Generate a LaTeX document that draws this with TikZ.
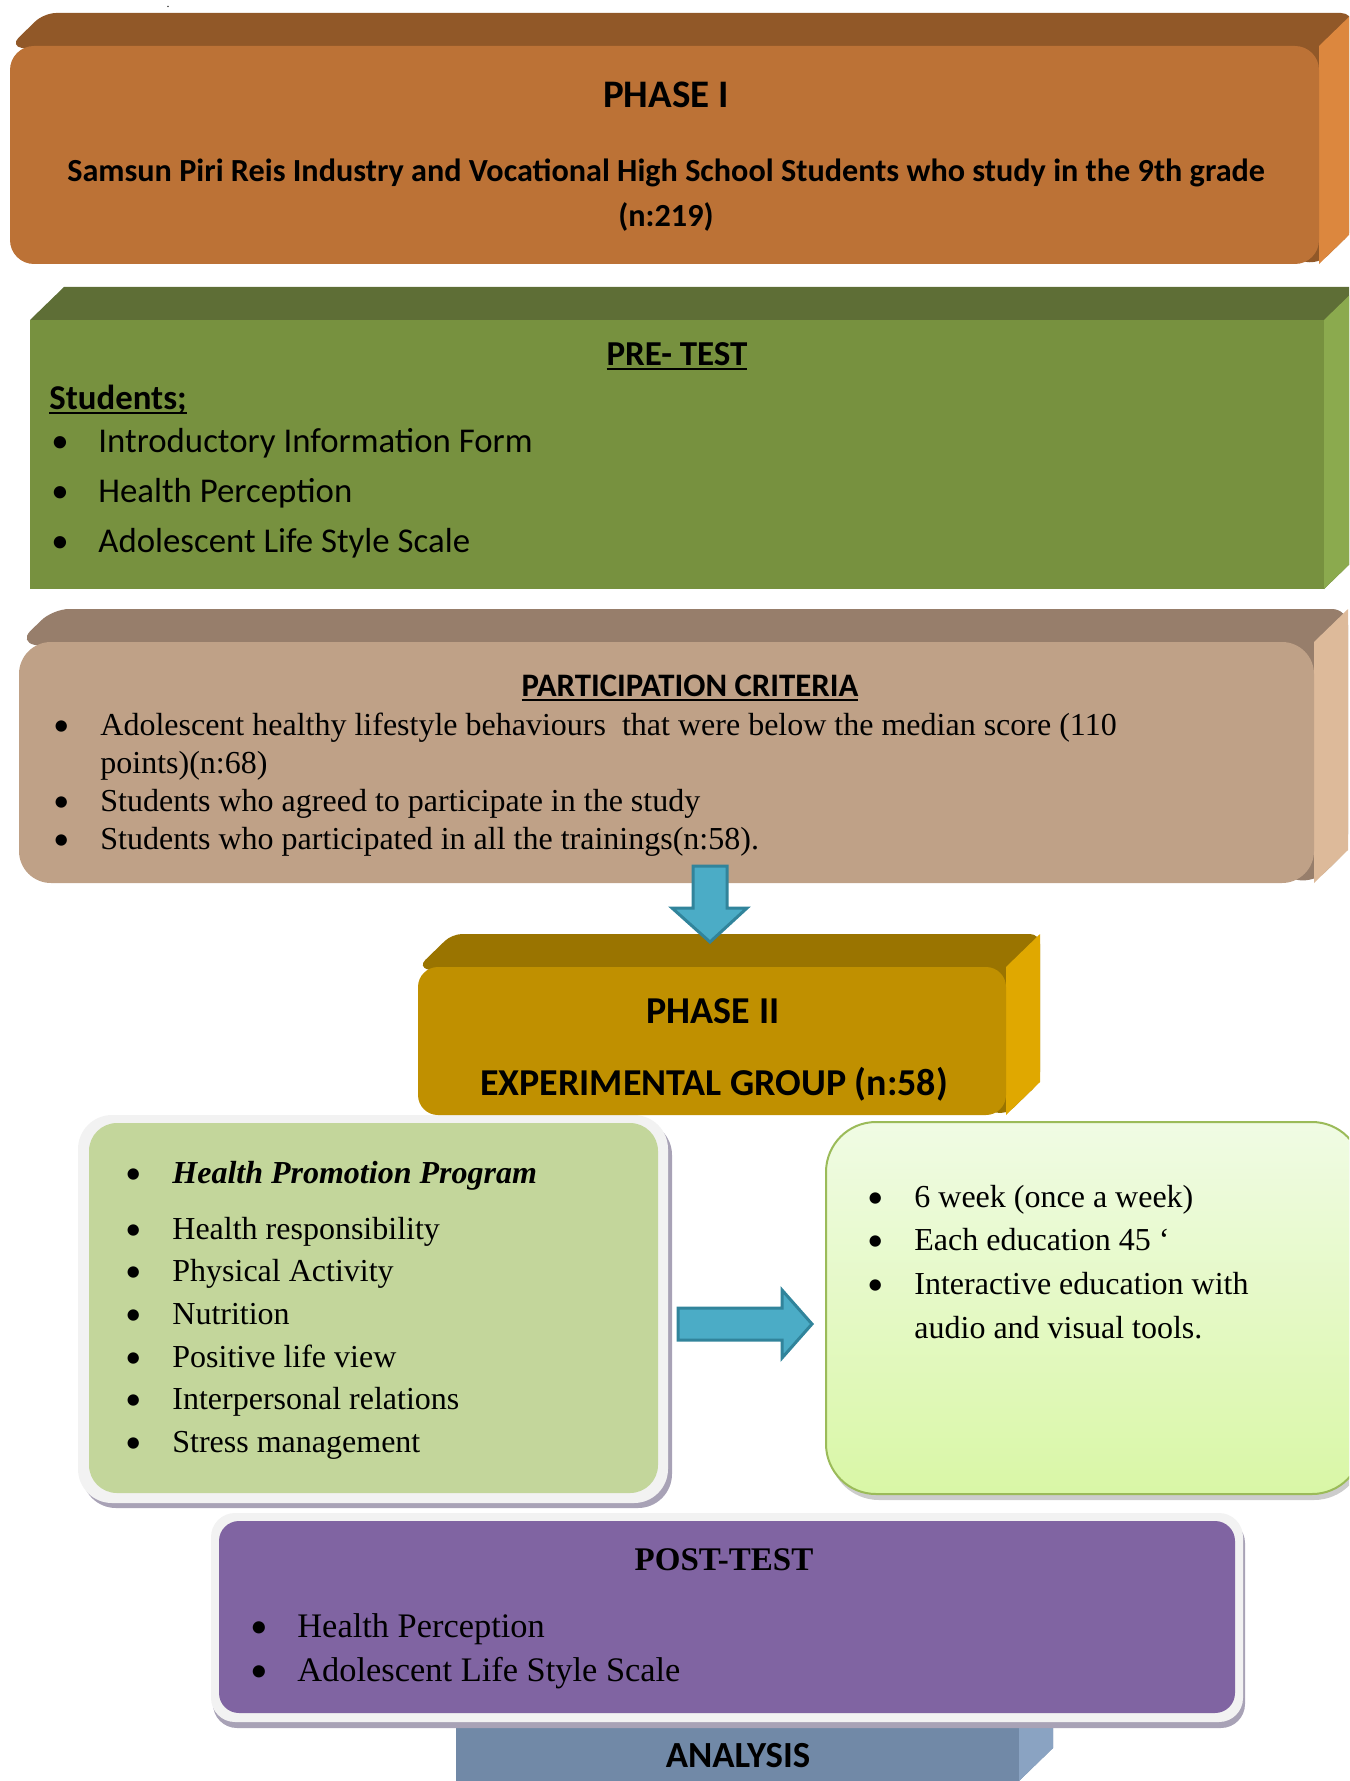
\documentclass[tikz,border=0pt]{standalone}
\usepackage{fontspec}
\setmainfont{Liberation Serif}
\newfontfamily\calib{Carlito}

\definecolor{oneTop}{HTML}{915828}
\definecolor{oneFront}{HTML}{BC7236}
\definecolor{oneSide}{HTML}{DC873E}
\definecolor{preTop}{HTML}{5E6E36}
\definecolor{preFront}{HTML}{77913F}
\definecolor{preSide}{HTML}{8BAA4E}
\definecolor{critTop}{HTML}{977E6B}
\definecolor{critFront}{HTML}{BFA187}
\definecolor{critSide}{HTML}{DDBA9A}
\definecolor{twoTop}{HTML}{9A7400}
\definecolor{twoFront}{HTML}{C09000}
\definecolor{twoSide}{HTML}{E0A800}
\definecolor{anaFront}{HTML}{7189A7}
\definecolor{anaSide}{HTML}{8AA3C2}
\definecolor{progFill}{HTML}{C3D69B}
\definecolor{postFill}{HTML}{8064A2}
\definecolor{frameGrey}{HTML}{F2F2F2}
\definecolor{shadowGrey}{HTML}{A8A2B6}
\definecolor{detailLine}{HTML}{9BBB59}
\definecolor{detailTop}{HTML}{F0FBE4}
\definecolor{detailBottom}{HTML}{D9F7A6}
\definecolor{arrowFill}{HTML}{4BACC6}
\definecolor{arrowLine}{HTML}{31849B}

\newcommand{\bul}{\makebox[23.5pt][l]{{\calib\textbullet}}}
\newlength{\ulwd}
\newcommand{\thickul}[1]{\settowidth{\ulwd}{#1}\rlap{\rule[-2.6pt]{\ulwd}{1pt}}#1}
% 3d slab: x1, y1, x2, y2, radius, top, front, side
\newcommand{\slab}[8]{%
  \fill[#6, rounded corners=0.5*#5] (#1,#2) -- (#1+34,#2-33) -- (#3+34,#2-33) -- (#3+34,#4-33) -- (#3,#4) -- cycle;
  \fill[#8] (#3,#2) -- (#3+34,#2-33) -- (#3+34,#4-33) -- (#3,#4) -- cycle;
  \fill[#7, rounded corners=#5] (#1,#2) rectangle (#3,#4);}

\begin{document}
\begin{tikzpicture}[x=0.5pt, y=-0.5pt,
    sanshead/.style={font=\calib\bfseries\fontsize{#1}{#1}\selectfont, anchor=base, inner sep=0pt},
    listtext/.style={anchor=base west, inner sep=0pt},
    blockarrow/.style={fill=arrowFill, draw=arrowLine, line width=1.5pt, line join=miter}]
  \useasboundingbox (0,0) rectangle (1349,1781);
  \clip (0,0) rectangle (1349,1781);

  % phase I
  \slab{10}{46}{1319}{264}{12pt}{oneTop}{oneFront}{oneSide}
  \node (dot) [inner sep=0pt, font=\fontsize{6pt}{7pt}\selectfont, anchor=base] at (168,8) {.};
  \node (phaseone) [sanshead=19.5pt] at (666,108) {PHASE I};
  \node (phaseonesub) [anchor=base, inner sep=0pt, font=\calib\bfseries\fontsize{16.1pt}{22.5pt}\selectfont] at (666,182)
    {\begin{tabular}[t]{@{}c@{}}Samsun Piri Reis Industry and Vocational High School Students who study in the 9th grade\\(n:219)\end{tabular}};

  % pre-test
  \slab{30}{320}{1324}{589}{0pt}{preTop}{preFront}{preSide}
  \node (pretest) [sanshead=17.5pt] at (677,365) {\thickul{PRE- TEST}};
  \node (students) [sanshead=17.4pt, anchor=base west] at (49,409) {\thickul{Students;}};
  \node (pretestlist) [listtext, font=\calib\fontsize{17.4pt}{25pt}\selectfont] at (51,452)
    {\begin{tabular}[t]{@{}l@{}}\bul Introductory Information Form\\ \bul Health Perception\\ \bul Adolescent Life Style Scale\end{tabular}};

  % participation criteria
  \slab{19}{642}{1314}{883}{16pt}{critTop}{critFront}{critSide}
  \node (crithead) [sanshead=16.4pt] at (690,696) {\thickul{PARTICIPATION CRITERIA}};
  \node (critlist) [listtext, font=\fontsize{16pt}{19.1pt}\selectfont] at (53,735)
    {\begin{tabular}[t]{@{}l@{}}\bul Adolescent healthy lifestyle behaviours \ that were below the median score (110\\
     \hspace*{23.5pt}points)(n:68)\\ \bul Students who agreed to participate in the study\\
     \bul Students who participated in all the trainings(n:58).\end{tabular}};

  % program and details
  \fill[shadowGrey, rounded corners=17pt] (82,1121) rectangle (672,1508);
  \fill[frameGrey, rounded corners=17pt] (78,1115) rectangle (668,1503);
  \fill[progFill, rounded corners=14pt] (89,1123) rectangle (658,1493);
  \node (programlist) [listtext, font=\fontsize{16pt}{21.3pt}\selectfont] at (125,1183)
    {\begin{tabular}[t]{@{}l@{}}\bul \textbf{\textit{Health Promotion Program}}\\[6.8pt]
     \bul Health responsibility\\ \bul Physical Activity\\ \bul Nutrition\\ \bul Positive life view\\
     \bul Interpersonal relations\\ \bul Stress management\end{tabular}};

  \fill[black!20, rounded corners=25pt] (829,1127) rectangle (1364,1500);
  \shade[top color=detailTop, bottom color=detailBottom, draw=detailLine, line width=1pt, rounded corners=25pt]
    (826,1122) rectangle (1362,1494);
  \node (detaillist) [listtext, font=\fontsize{16pt}{21.85pt}\selectfont] at (867,1207)
    {\begin{tabular}[t]{@{}l@{}}\bul 6 week (once a week)\\ \bul Each education 45 ‘\\
     \bul Interactive education with\\ \hspace*{23.5pt}audio and visual tools.\end{tabular}};

  \draw[blockarrow] (678,1308) -- (782,1308) -- (782,1290) -- (812,1324) -- (782,1358) -- (782,1340) -- (678,1340) -- cycle;

  % phase II
  \slab{418}{967}{1006}{1115}{10pt}{twoTop}{twoFront}{twoSide}
  \node (phasetwo) [sanshead=19pt] at (713,1023) {PHASE II};
  \node (expgroup) [sanshead=19pt] at (714,1095) {EXPERIMENTAL GROUP (n:58)};

  \draw[blockarrow] (693,866) -- (727,866) -- (727,908) -- (747,908) -- (710,942) -- (672,908) -- (693,908) -- cycle;

  % analysis and post-test
  \slab{456}{1700}{1019}{1781}{0pt}{anaFront}{anaFront}{anaSide}
  \node (analysis) [sanshead=18.4pt] at (738,1767) {ANALYSIS};

  \fill[shadowGrey, rounded corners=12pt] (213,1519) rectangle (1245,1728);
  \fill[frameGrey, rounded corners=12pt] (211,1513) rectangle (1243,1722);
  \fill[postFill, rounded corners=10pt] (219,1521) rectangle (1235,1713);
  \node (posttest) [anchor=base, inner sep=0pt, font=\bfseries\fontsize{16.5pt}{20pt}\selectfont] at (724,1570) {POST-TEST};
  \node (postlist) [listtext, font=\fontsize{17.2pt}{22pt}\selectfont] at (250,1637)
    {\begin{tabular}[t]{@{}l@{}}\bul Health Perception\\ \bul Adolescent Life Style Scale\end{tabular}};
\end{tikzpicture}
\end{document}
